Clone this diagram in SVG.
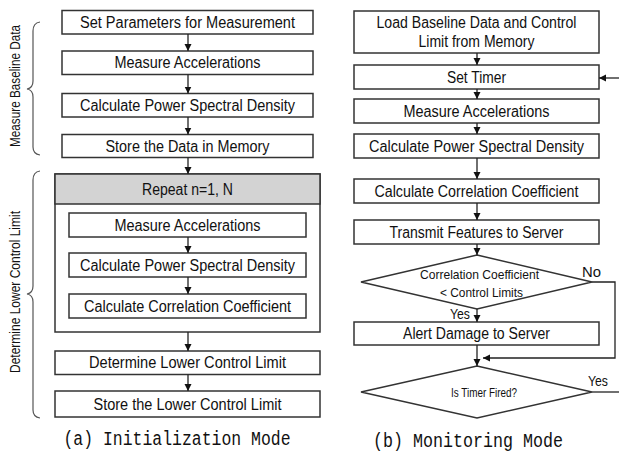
<svg xmlns="http://www.w3.org/2000/svg" width="619" height="455" viewBox="0 0 619 455">
<style>
.box{fill:#fff;stroke:#333;stroke-width:1.5}
.hdr{fill:#d3d3d3;stroke:#333;stroke-width:1.5}
.t{font-family:"Liberation Sans",Arial,sans-serif;font-size:16px;fill:#111;text-anchor:middle}
.s{font-family:"Liberation Sans",Arial,sans-serif;font-size:13.5px;fill:#111;text-anchor:middle}
.lab{font-family:"Liberation Sans",Arial,sans-serif;font-size:15px;fill:#111}
.cap{font-family:"Liberation Mono","DejaVu Sans Mono",monospace;font-size:20px;fill:#111;text-anchor:middle}
.ln{fill:none;stroke:#222;stroke-width:1.3}
.br{fill:none;stroke:#555;stroke-width:1.2}
</style>
<defs>
<marker id="ah" markerUnits="userSpaceOnUse" markerWidth="8" markerHeight="8" refX="7" refY="3.5" orient="auto">
<path d="M0,0 L7,3.5 L0,7 z" fill="#111"/>
</marker>
</defs>

<g id="braces">
<path class="br" d="M40,22 Q33,23 33,31 L33,81 Q33,88 27,89 Q33,90 33,97 L33,147 Q33,154 40,155"/>
<text class="lab" text-anchor="middle" transform="translate(20,86) rotate(-90)" textLength="122" lengthAdjust="spacingAndGlyphs">Measure Baseline Data</text>
<path class="br" d="M40,171 Q33,172 33,180 L33,286 Q33,293 27,294 Q33,295 33,302 L33,410 Q33,417 40,418"/>
<text class="lab" text-anchor="middle" transform="translate(20,292) rotate(-90)" textLength="162" lengthAdjust="spacingAndGlyphs">Determine Lower Control Limit</text>
</g>

<g id="a1"><rect class="box" x="62" y="10.5" width="251" height="23.5"/><text class="t" x="187.5" y="27.5" textLength="215" lengthAdjust="spacingAndGlyphs">Set Parameters for Measurement</text></g>
<g id="a2"><rect class="box" x="62" y="51" width="251" height="23.5"/><text class="t" x="187.5" y="68" textLength="146" lengthAdjust="spacingAndGlyphs">Measure Accelerations</text></g>
<g id="a3"><rect class="box" x="62" y="93.5" width="251" height="23.5"/><text class="t" x="187.5" y="110.5" textLength="215" lengthAdjust="spacingAndGlyphs">Calculate Power Spectral Density</text></g>
<g id="a4"><rect class="box" x="62" y="134.5" width="251" height="23"/><text class="t" x="187.5" y="151.5" textLength="164" lengthAdjust="spacingAndGlyphs">Store the Data in Memory</text></g>
<g id="repeat">
<rect class="box" x="55" y="174" width="265" height="158"/>
<rect class="hdr" x="55" y="174" width="265" height="30"/>
<text class="t" x="187.5" y="195" textLength="91" lengthAdjust="spacingAndGlyphs">Repeat n=1, N</text>
</g>
<g id="r1"><rect class="box" x="69" y="213" width="237" height="24"/><text class="t" x="187.5" y="230.5" textLength="146" lengthAdjust="spacingAndGlyphs">Measure Accelerations</text></g>
<g id="r2"><rect class="box" x="69" y="253" width="237" height="24"/><text class="t" x="187.5" y="270.5" textLength="215" lengthAdjust="spacingAndGlyphs">Calculate Power Spectral Density</text></g>
<g id="r3"><rect class="box" x="69" y="294" width="237" height="24"/><text class="t" x="187.5" y="311.5" textLength="207" lengthAdjust="spacingAndGlyphs">Calculate Correlation Coefficient</text></g>
<g id="a5"><rect class="box" x="55" y="351" width="265" height="23.5"/><text class="t" x="187.5" y="368" textLength="197" lengthAdjust="spacingAndGlyphs">Determine Lower Control Limit</text></g>
<g id="a6"><rect class="box" x="55" y="391" width="265" height="26"/><text class="t" x="187.5" y="409.5" textLength="188" lengthAdjust="spacingAndGlyphs">Store the Lower Control Limit</text></g>
<text class="cap" x="177" y="445" textLength="227" lengthAdjust="spacingAndGlyphs">(a) Initialization Mode</text>

<g id="b1"><rect class="box" x="354" y="11" width="245" height="42"/><text class="t" x="476.5" y="28" textLength="200" lengthAdjust="spacingAndGlyphs">Load Baseline Data and Control</text><text class="t" x="476.5" y="47" textLength="116" lengthAdjust="spacingAndGlyphs">Limit from Memory</text></g>
<g id="b2"><rect class="box" x="354" y="65" width="245" height="24"/><text class="t" x="476.5" y="82.5" textLength="59" lengthAdjust="spacingAndGlyphs">Set Timer</text></g>
<g id="b3"><rect class="box" x="354" y="99" width="245" height="24"/><text class="t" x="476.5" y="116.5" textLength="146" lengthAdjust="spacingAndGlyphs">Measure Accelerations</text></g>
<g id="b4"><rect class="box" x="354" y="134" width="245" height="24"/><text class="t" x="476.5" y="151.5" textLength="215" lengthAdjust="spacingAndGlyphs">Calculate Power Spectral Density</text></g>
<g id="b5"><rect class="box" x="354" y="179" width="245" height="24"/><text class="t" x="476.5" y="196.5" textLength="204" lengthAdjust="spacingAndGlyphs">Calculate Correlation Coefficient</text></g>
<g id="b6"><rect class="box" x="354" y="220" width="245" height="24"/><text class="t" x="476.5" y="237.5" textLength="174" lengthAdjust="spacingAndGlyphs">Transmit Features to Server</text></g>
<g id="d1"><polygon class="box" points="477,255 592,282 477,309 361,282"/><text class="s" x="479.5" y="279" textLength="119" lengthAdjust="spacingAndGlyphs">Correlation Coefficient</text><text class="s" x="481.5" y="297" textLength="83" lengthAdjust="spacingAndGlyphs">&lt; Control Limits</text></g>
<g id="b7"><rect class="box" x="354" y="322" width="245" height="23"/><text class="t" x="476.5" y="339" textLength="147" lengthAdjust="spacingAndGlyphs">Alert Damage to Server</text></g>
<g id="d2"><polygon class="box" points="477,366 592,392 477,418 361,392"/><text class="s" x="484" y="397" style="font-size:12.5px" textLength="66" lengthAdjust="spacingAndGlyphs">Is Timer Fired?</text></g>
<text class="cap" x="468" y="447" textLength="190" lengthAdjust="spacingAndGlyphs">(b) Monitoring Mode</text>

<g id="connectors">
<line class="ln" x1="188" y1="34" x2="188" y2="51" marker-end="url(#ah)"/>
<line class="ln" x1="188" y1="74.5" x2="188" y2="93.5" marker-end="url(#ah)"/>
<line class="ln" x1="188" y1="117" x2="188" y2="134.5" marker-end="url(#ah)"/>
<line class="ln" x1="188" y1="157.5" x2="188" y2="174" marker-end="url(#ah)"/>
<line class="ln" x1="188" y1="237" x2="188" y2="253" marker-end="url(#ah)"/>
<line class="ln" x1="188" y1="277" x2="188" y2="294" marker-end="url(#ah)"/>
<line class="ln" x1="188" y1="332" x2="188" y2="351" marker-end="url(#ah)"/>
<line class="ln" x1="188" y1="374.5" x2="188" y2="391" marker-end="url(#ah)"/>

<line class="ln" x1="477" y1="53" x2="477" y2="65" marker-end="url(#ah)"/>
<line class="ln" x1="477" y1="89" x2="477" y2="99" marker-end="url(#ah)"/>
<line class="ln" x1="477" y1="123" x2="477" y2="134" marker-end="url(#ah)"/>
<line class="ln" x1="477" y1="158" x2="477" y2="179" marker-end="url(#ah)"/>
<line class="ln" x1="477" y1="203" x2="477" y2="220" marker-end="url(#ah)"/>
<line class="ln" x1="477" y1="244" x2="477" y2="255" marker-end="url(#ah)"/>
<line class="ln" x1="477" y1="309" x2="477" y2="322" marker-end="url(#ah)"/>
<line class="ln" x1="477" y1="345" x2="477" y2="366" marker-end="url(#ah)"/>
<polyline class="ln" points="592,282 615,282 615,358 483,358" marker-end="url(#ah)"/>
<line class="ln" x1="592" y1="392" x2="619" y2="392"/>
<line class="ln" x1="619" y1="78" x2="599" y2="78" marker-end="url(#ah)"/>
<text class="lab" x="582" y="277" textLength="19" lengthAdjust="spacingAndGlyphs">No</text>
<text class="lab" x="450" y="319" textLength="20" lengthAdjust="spacingAndGlyphs">Yes</text>
<text class="lab" x="588" y="386" textLength="20" lengthAdjust="spacingAndGlyphs">Yes</text>
</g>
</svg>
